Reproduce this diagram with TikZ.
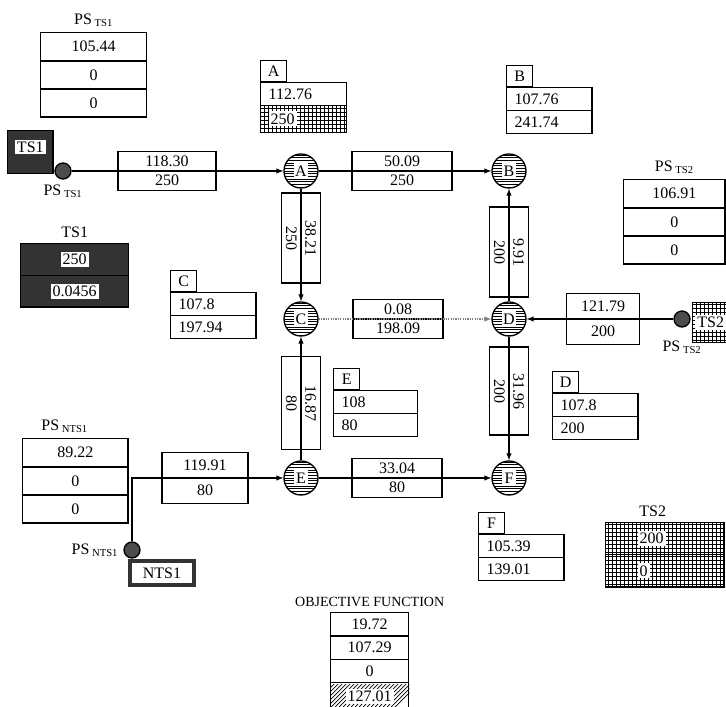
\documentclass[tikz,border=0pt]{standalone}
\usepackage{fontspec}
\setmainfont{Liberation Serif}
\usetikzlibrary{shapes.multipart,backgrounds}
\setlength{\fboxsep}{1.5pt}
\begin{document}
\begin{tikzpicture}[x=0.75pt,y=-0.75pt,>=latex,
  font=\fontsize{12}{14}\selectfont,
  every node/.style={line width=1pt},
  stn/.style={circle, draw, minimum size=25.5pt, inner sep=0pt,
    path picture={\foreach \k in {-12,-10,...,12} \draw[line width=0.5pt] (path picture bounding box.center) ++(-14pt,\k pt) -- ++(28pt,0pt);
      \fill[white] (path picture bounding box.center) ++(-5.5pt,-6pt) rectangle ++(11pt,12pt);}},
  src/.style={circle, draw, fill=black!70, minimum size=12pt, inner sep=0pt},
  flowbox/.style={rectangle split, rectangle split parts=2, draw, inner ysep=2.7pt, inner xsep=2pt, minimum width=#1},
  flowbox/.default=67.5pt,
  pstab/.style={rectangle split, rectangle split parts=3, draw, minimum width=79pt, inner ysep=6pt, anchor=north west},
  infobox/.style={rectangle split, rectangle split parts=2, draw, minimum width=64pt, inner ysep=4pt, inner xsep=6pt, rectangle split part align=left, anchor=north west},
  tab/.style={draw, minimum width=19.5pt, minimum height=15.5pt, inner sep=0pt, anchor=south west},
  gridfill/.style={line width=0.6pt, step=3pt},
  conn/.style={->, line width=0.8pt}
]
\useasboundingbox (0,0) rectangle (726,707);

% price tables of the sources
\node[pstab, minimum width=79.5pt, label={above:PS\,\textsubscript{TS1}}] (pstsone) at (40,32) {105.44 \nodepart{two} 0 \nodepart{three} 0};
\node[pstab, minimum width=76pt, label={above:PS\,\textsubscript{TS2}}] (pststwo) at (623,179) {106.91 \nodepart{two} 0 \nodepart{three} 0};
\node[pstab, label={[xshift=-8pt]above:PS\,\textsubscript{NTS1}}] (psntsone) at (22,438) {89.22 \nodepart{two} 0 \nodepart{three} 0};

% sources
\node[draw, fill=black!80, minimum width=34pt, minimum height=32pt, text depth=9pt, inner sep=1pt, anchor=north west] (tsone) at (7,130) {\colorbox{white}{TS1}};
\node[src, label={below:PS\,\textsubscript{TS1}}] (srcone) at (63,171) {};
\node[draw, minimum width=25.5pt, minimum height=30pt, inner sep=2pt, anchor=north west] (tstwo) at (692,302) {\colorbox{white}{TS2}};
\node[src, label={[yshift=-6pt]below:PS\,\textsubscript{TS2}}] (srctwo) at (682,319) {};
\node[draw=black!80, line width=3pt, fill=white, minimum width=48pt, minimum height=18pt, inner sep=1pt, anchor=north west] (ntsone) at (128,559) {NTS1};
\node[src, label={left:PS\,\textsubscript{NTS1}}] (srcnts) at (132,550) {};

% network nodes
\node[stn] (A) at (301,171) {A};
\node[stn] (B) at (509,171) {B};
\node[stn] (C) at (301,319) {C};
\node[stn] (D) at (509,319) {D};
\node[stn] (E) at (301,478) {E};
\node[stn] (F) at (509,478) {F};

% flows on the pipes
\node[flowbox=73.5pt] (fsa) at (167,171) {118.30 \nodepart{two} 250};
\node[flowbox=75pt] (fab) at (402,171) {50.09 \nodepart{two} 250};
\node[flowbox, rotate=-90] (fac) at (301,238) {38.21 \nodepart{two} 250};
\node[flowbox, rotate=-90] (fdb) at (509,252) {9.91 \nodepart{two} 200};
\node[flowbox] (fcd) at (398,319) {0.08 \nodepart{two} 198.09};
\node[flowbox=55pt, inner ysep=5pt] (fsd) at (603,319) {121.79 \nodepart{two} 200};
\node[flowbox=70pt, rotate=-90] (fec) at (301,403) {16.87 \nodepart{two} 80};
\node[flowbox=66pt, rotate=-90] (fdf) at (509,391) {31.96 \nodepart{two} 200};
\node[flowbox=64.5pt, inner ysep=5pt] (fse) at (205,478) {119.91 \nodepart{two} 80};
\node[flowbox] (fef) at (397,478) {33.04 \nodepart{two} 80};

\draw[conn] (srcone) -- (A);
\draw[conn] (A) -- (B);
\draw[conn] (A) -- (C);
\draw[conn] (D) -- (B);
\draw[conn, gray, densely dotted] (C) -- (D);
\draw[conn] (srctwo) -- (D);
\draw[conn] (E) -- (C);
\draw[conn] (D) -- (F);
\draw[conn] (srcnts) |- (E);
\draw[conn] (E) -- (F);

% node prices
\node[infobox, minimum width=64.5pt] (infa) at (260,82) {112.76 \nodepart{two} \colorbox{white}{250}};
\node[tab] (taba) at (infa.north west) {A};
\node[infobox] (infb) at (506,87) {107.76 \nodepart{two} 241.74};
\node[tab] (tabb) at (infb.north west) {B};
\node[infobox] (infc) at (170,292) {107.8 \nodepart{two} 197.94};
\node[tab] (tabc) at (infc.north west) {C};
\node[infobox] (infd) at (552,393) {107.8 \nodepart{two} 200};
\node[tab] (tabd) at (infd.north west) {D};
\node[infobox, minimum width=63pt] (infe) at (333,390) {108 \nodepart{two} 80};
\node[tab] (tabe) at (infe.north west) {E};
\node[infobox] (inff) at (478,534) {105.39 \nodepart{two} 139.01};
\node[tab] (tabf) at (inff.north west) {F};

% supplies
\node[rectangle split, rectangle split parts=2, draw, fill=black!80, minimum width=81pt, inner ysep=5.8pt, anchor=north west, label=above:TS1] (tsonetab) at (20,243) {\colorbox{white}{250} \nodepart{two} \colorbox{white}{0.0456}};
\node[rectangle split, rectangle split parts=2, draw, minimum width=88.5pt, inner ysep=6pt, inner xsep=24pt, rectangle split part align=left, anchor=north west, label={[xshift=-9pt]above:TS2}] (tstwotab) at (605,522) {\colorbox{white}{200} \nodepart{two} \colorbox{white}{0}};

% objective
\node[rectangle split, rectangle split parts=4, draw, minimum width=58.5pt, inner ysep=4.2pt, anchor=north west, label={[font=\fontsize{10.5}{12}\selectfont]above:OBJECTIVE FUNCTION}] (obj) at (330,612) {19.72 \nodepart{two} 107.29 \nodepart{three} 0 \nodepart{four} \colorbox{white}{127.01}};

\begin{scope}[on background layer]
\draw[gridfill] (infa.text split west) grid (infa.south east);
\draw[gridfill] (tstwo.north west) grid (tstwo.south east);
\draw[gridfill] (tstwotab.north west) grid (tstwotab.south east);
\clip (obj.three split west) rectangle (obj.south east);
\foreach \i in {0,...,22}
  \draw[line width=0.6pt] (obj.south west) ++(\i*3pt-20pt,0pt) -- ++(20pt,20pt);
\end{scope}
\end{tikzpicture}
\end{document}
